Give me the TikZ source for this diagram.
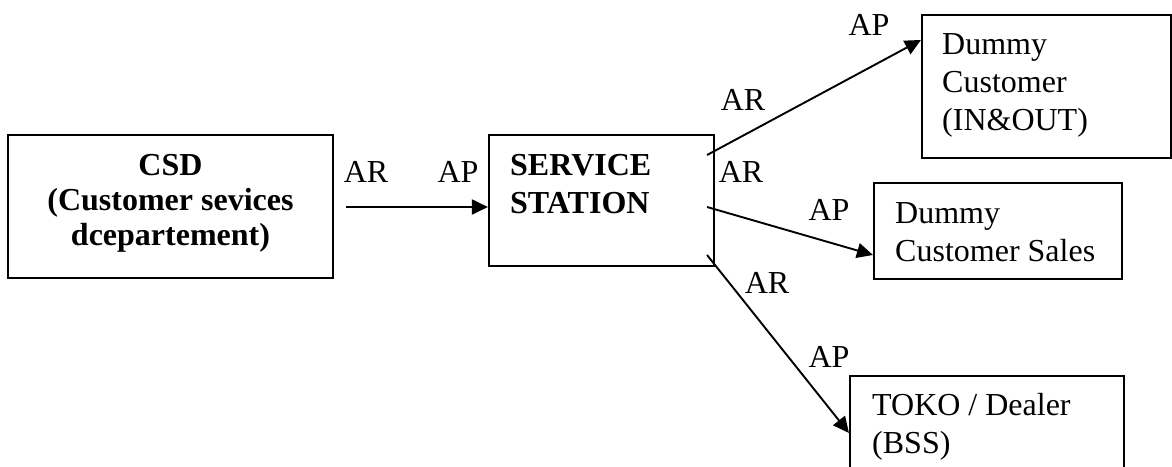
\documentclass[tikz,border=0pt]{standalone}
\usepackage{fontspec}
\setmainfont{Liberation Serif}
\usetikzlibrary{arrows.meta,calc}
\begin{document}
\begin{tikzpicture}[x=1pt,y=-1pt,
  box/.style={draw,line width=2.1pt,inner sep=0pt},
  link/.style={line width=1.9pt,-{Triangle[length=16pt,width=15pt]}},
  big/.style={font=\fontsize{32}{38}\selectfont},
  tag/.style={big,anchor=base,inner sep=0pt},
  body/.style={big,anchor=base west,inner sep=0pt}]
\useasboundingbox (0,0) rectangle (1172,466);
\clip (0,0) rectangle (1172,466);

% boxes
\node[box,minimum width=325pt,minimum height=143pt] (csd) at (170.5,206.5) {};
\node[box,minimum width=225pt,minimum height=131pt] (ss) at (601.5,200.5) {};
\node[box,minimum width=249pt,minimum height=143pt] (dio) at (1046.5,86.5) {};
\node[box,minimum width=248pt,minimum height=96pt] (dsales) at (998,231) {};
\node[box,minimum width=274pt,minimum height=114pt] (toko) at (987,433) {};

% box texts
\node[tag] (csd-t) at (170.5,175)
  {\parbox[t]{320pt}{\baselineskip=35pt\centering\bfseries CSD\\(Customer sevices\\dcepartement)}};
\node[body] (ss-t) at (510,175)
  {\parbox[t]{200pt}{\bfseries SERVICE\\STATION}};
\node[body] (dio-t) at (942,54)
  {\parbox[t]{220pt}{Dummy\\Customer\\(IN\&OUT)}};
\node[body] (dsales-t) at (895,223)
  {\parbox[t]{225pt}{Dummy\\Customer Sales}};
\node[body] (toko-t) at (872,415)
  {\parbox[t]{250pt}{TOKO / Dealer\\(BSS)}};

% connector start points inside the station box
\coordinate (o1) at ($(ss.east)+(-8,-45.5)$);
\coordinate (o2) at ($(ss.east)+(-8,6.5)$);
\coordinate (o3) at ($(ss.east)+(-8,54.5)$);
\coordinate (i0) at ($(csd.east)+(12,0.5)$);

% connectors
\draw[link] (i0) -- (ss.west |- i0);
\draw[link] (o1) -- ($(dio.north west)+(0,26)$);
\draw[link] (o2) -- ($(dsales.west)+(0,24)$);
\draw[link] (o3) -- ($(toko.north west)+(0,58)$);

% connector labels
\node[tag] (l1) at (366,182) {AR};
\node[tag] (l2) at (458,182) {AP};
\node[tag] (l3) at (869,35) {AP};
\node[tag] (l4) at (743,110) {AR};
\node[tag] (l5) at (741,182) {AR};
\node[tag] (l6) at (829,220) {AP};
\node[tag] (l7) at (767,293) {AR};
\node[tag] (l8) at (829,367) {AP};
\end{tikzpicture}
\end{document}
